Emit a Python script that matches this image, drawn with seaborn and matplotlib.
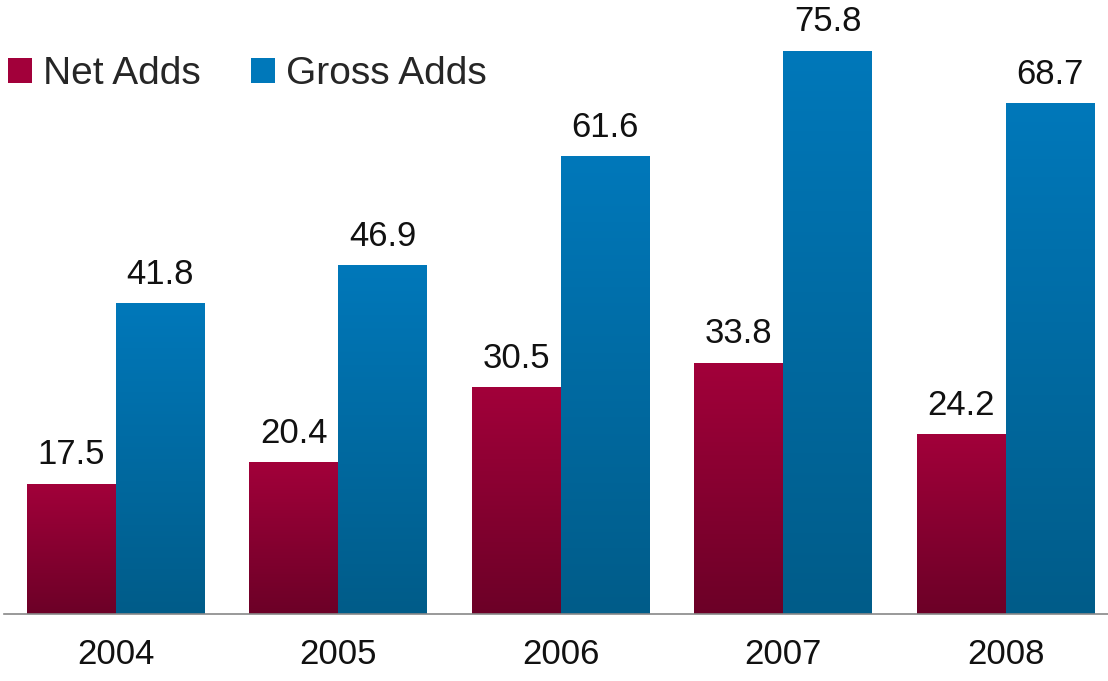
import numpy as np
import pandas as pd
import matplotlib.pyplot as plt
import matplotlib.colors as mcolors
import seaborn as sns

# dati
years = ['2004', '2005', '2006', '2007', '2008']
net_adds = [17.5, 20.4, 30.5, 33.8, 24.2]
gross_adds = [41.8, 46.9, 61.6, 75.8, 68.7]
series = ['Net Adds', 'Gross Adds']

df = pd.DataFrame({
    'year': years * 2,
    'value': net_adds + gross_adds,
    'series': [series[0]] * len(years) + [series[1]] * len(years),
})

# colori (alto, basso) per il gradiente
top_colors = {'Net Adds': '#A2003A', 'Gross Adds': '#0078BA'}
bottom_colors = {'Net Adds': '#6C0027', 'Gross Adds': '#005C89'}

sns.set_style('white')
plt.rcParams['font.family'] = ['Liberation Sans', 'DejaVu Sans']

fig = plt.figure(figsize=(11.08, 6.81), dpi=100)
ax = fig.add_axes([0.004, (681 - 614) / 681, 0.996, 614 / 681])

sns.barplot(data=df, x='year', y='value', hue='series', hue_order=series,
            palette=[top_colors[s] for s in series], width=0.8,
            saturation=1, ax=ax, edgecolor='none')

# gradiente verticale dentro ogni barra
for container, s in zip(ax.containers, series):
    cmap = mcolors.LinearSegmentedColormap.from_list(
        s, [bottom_colors[s], top_colors[s]])
    for bar in container:
        x0, y0 = bar.get_x(), bar.get_y()
        w, h = bar.get_width(), bar.get_height()
        grad = np.linspace(0, 1, 256).reshape(-1, 1)
        im = ax.imshow(grad, cmap=cmap, origin='lower', aspect='auto',
                       extent=(x0, x0 + w, y0, y0 + h), zorder=bar.get_zorder())
        im.set_clip_path(bar)
    ax.bar_label(container, fmt='%.1f', padding=9, fontsize=25, color='#111111')

ax.set_xlim(-0.5, 4.46)
ax.set_ylim(0, 82.6)

# assi
ax.set_xlabel('')
ax.set_ylabel('')
ax.set_yticks([])
ax.tick_params(axis='x', length=0, labelsize=25, pad=17, labelcolor='#111111')
for side in ['top', 'right', 'left']:
    ax.spines[side].set_visible(False)
ax.spines['bottom'].set_color('#888888')
ax.spines['bottom'].set_linewidth(1.2)

ax.legend(loc='upper left', bbox_to_anchor=(8 / 1108, 1 - 56 / 681),
          bbox_transform=fig.transFigure, ncol=2, frameon=False,
          fontsize=28, handlelength=0.62, handleheight=0.62, handletextpad=0.28,
          columnspacing=1.3, borderpad=0, borderaxespad=0)

plt.savefig('out.png', dpi=100)
